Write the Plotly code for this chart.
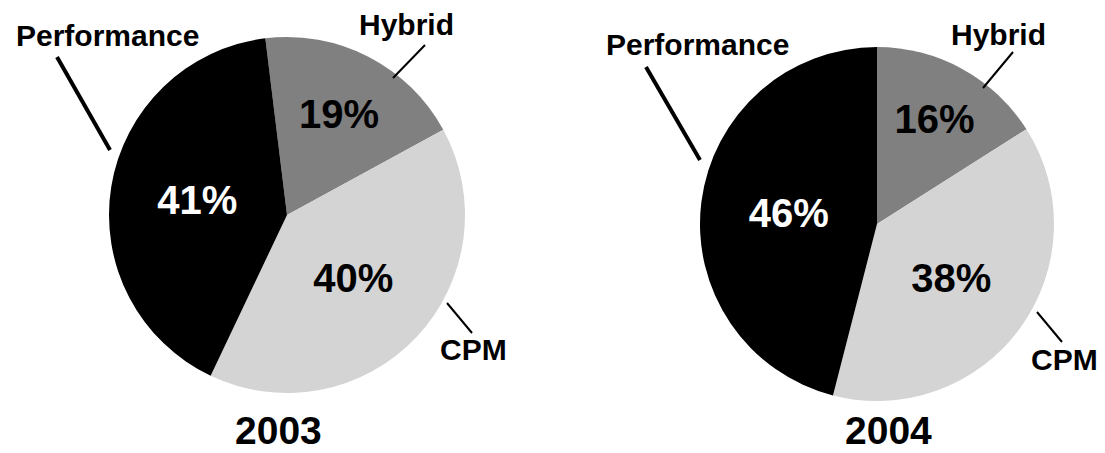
import plotly.graph_objects as go

W, H = 1105, 453

labels = ["Hybrid", "CPM", "Performance"]
values_2003 = [19, 40, 41]
values_2004 = [16, 38, 46]
years = ["2003", "2004"]
slice_colors = ["#808080", "#d4d4d4", "#000000"]
text_colors = ["#000000", "#000000", "#ffffff"]

FONT = "Liberation Sans, Arial, sans-serif"


def px(x):
    return x / W


def py(y):
    return 1 - y / H


def dom(cx, cy, r):
    return dict(x=[px(cx - r), px(cx + r)], y=[py(cy + r), py(cy - r)])


fig = go.Figure()

pies = [
    (values_2003, dom(287, 215, 178), -7),
    (values_2004, dom(877, 224, 177), 0),
]
for vals, d, rot in pies:
    fig.add_trace(go.Pie(
        labels=labels,
        values=vals,
        sort=False,
        direction="clockwise",
        rotation=rot,
        domain=d,
        marker=dict(colors=slice_colors, line=dict(width=0)),
        texttemplate="%{value}%",
        textposition="inside",
        insidetextorientation="horizontal",
        insidetextfont=dict(family=FONT, size=40, color=text_colors, weight="bold"),
        showlegend=False,
        hoverinfo="label+percent",
    ))

# category labels next to each pie
label_pos = [
    [("Performance", 107, 36), ("Hybrid", 406, 25), ("CPM", 473, 349)],
    [("Performance", 697, 44), ("Hybrid", 998, 35), ("CPM", 1064, 359)],
]
for group in label_pos:
    for txt, x, y in group:
        fig.add_annotation(
            x=px(x), y=py(y), xref="paper", yref="paper",
            text=txt, showarrow=False, xanchor="center", yanchor="middle",
            font=dict(family=FONT, size=30, color="#000000", weight="bold"),
        )

# years under each pie
for yr, x in [(years[0], 278), (years[1], 888)]:
    fig.add_annotation(
        x=px(x), y=0, xref="paper", yref="paper",
        text=yr, showarrow=False, xanchor="center", yanchor="bottom",
        borderpad=0,
        font=dict(family=FONT, size=39, color="#000000", weight="bold"),
    )

# leader lines
leaders = [
    ((57, 57), (110, 150), 4),
    ((425, 45), (393, 78), 2),
    ((447, 303), (472, 333), 2),
    ((646, 67), (700, 160), 4),
    ((1013, 52), (983, 88), 2),
    ((1037, 312), (1062, 342), 2),
]
for (x0, y0), (x1, y1), w in leaders:
    fig.add_shape(
        type="line", xref="paper", yref="paper",
        x0=px(x0), y0=py(y0), x1=px(x1), y1=py(y1),
        line=dict(color="#000000", width=w),
    )

fig.update_layout(
    width=W, height=H,
    margin=dict(l=0, r=0, t=0, b=0),
    paper_bgcolor="#ffffff",
    plot_bgcolor="#ffffff",
)

fig.write_html("out.html")
